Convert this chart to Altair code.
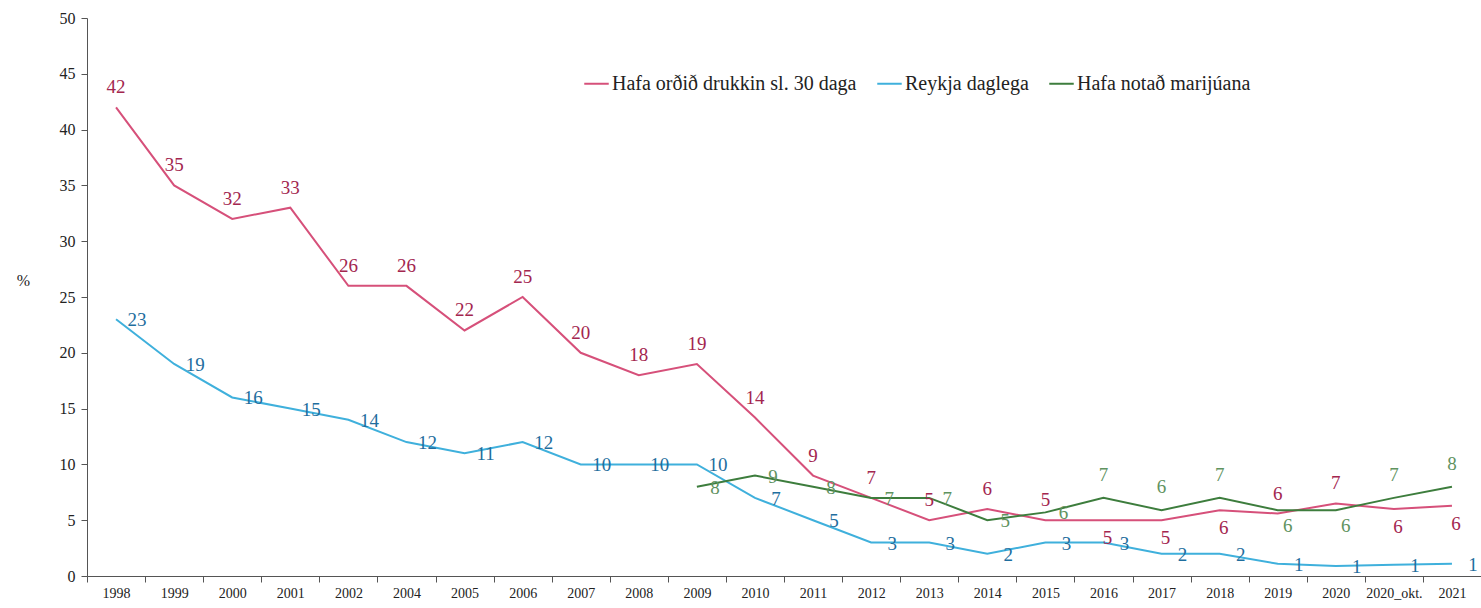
import altair as alt
import pandas as pd

years = ["1998", "1999", "2000", "2001", "2002", "2004", "2005", "2006", "2007", "2008",
         "2009", "2010", "2011", "2012", "2013", "2014", "2015", "2016", "2017", "2018",
         "2019", "2020", "2020_okt.", "2021"]

drunk = [42, 35, 32, 33, 26, 26, 22, 25, 20, 18, 19, 14.2, 9, 7, 5, 6, 5, 5, 5, 5.9,
         5.6, 6.5, 6, 6.3]
smoke = [23, 19, 16, 15, 14, 12, 11, 12, 10, 10, 10, 7, 5, 3, 3, 2, 3, 3, 2, 2,
         1.1, 0.9, 1, 1.1]
mj_years = years[10:]
mj = [8, 9, 8, 7, 7, 5, 5.7, 7, 5.9, 7, 5.9, 5.9, 7, 8]

series_names = ["Hafa orðið drukkin sl. 30 daga", "Reykja daglega", "Hafa notað marijúana"]
line_colors = ["#d6507a", "#3fb0dc", "#3d7d3d"]
label_colors = ["#a3264f", "#1f6e9e", "#5f935f"]

drunk_below = ["2016", "2017", "2018", "2020_okt.", "2021"]
mj_above = ["2016", "2017", "2018", "2020_okt.", "2021"]
mj_below = ["2019", "2020"]

rows = []
for y, v in zip(years, drunk):
    rows.append({"year": y, "value": v, "series": series_names[0]})
for y, v in zip(years, smoke):
    rows.append({"year": y, "value": v, "series": series_names[1]})
for y, v in zip(mj_years, mj):
    rows.append({"year": y, "value": v, "series": series_names[2]})
df = pd.DataFrame(rows)

FONT = "Liberation Serif"

x_enc = alt.X("year:N", sort=years,
              scale=alt.Scale(type="band", paddingInner=0, paddingOuter=0),
              axis=alt.Axis(title=None, labelAngle=0, tickBand="extent",
                            labelFont=FONT, labelFontSize=14, labelColor="#222",
                            domainColor="#555", tickColor="#555", tickSize=6,
                            labelPadding=4))
y_enc = alt.Y("value:Q",
              scale=alt.Scale(domain=[0, 50], nice=False),
              axis=alt.Axis(title="%", titleAngle=0, titleX=-64, titleY=262,
                            titleAlign="center", titleBaseline="middle",
                            titleFont=FONT, titleFontSize=16, titleFontWeight="normal",
                            titleColor="#222",
                            values=list(range(0, 51, 5)), grid=False,
                            labelFont=FONT, labelFontSize=16, labelColor="#222",
                            domainColor="#555", tickColor="#555", tickSize=6,
                            labelPadding=6))

lines = alt.Chart(df).mark_line(strokeWidth=2).encode(
    x=x_enc, y=y_enc,
    color=alt.Color("series:N",
                    scale=alt.Scale(domain=series_names, range=line_colors),
                    legend=alt.Legend(title=None, orient="none", legendX=496, legendY=52,
                                      direction="horizontal", symbolType="stroke",
                                      symbolSize=600, symbolStrokeWidth=2,
                                      labelFont=FONT, labelFontSize=20, labelColor="#222",
                                      columnPadding=16, labelOffset=2, labelLimit=400)),
    detail="series:N",
)


def labels(data, color, dx, dy):
    return alt.Chart(data).mark_text(font=FONT, fontSize=19, color=color,
                                     dx=dx, dy=dy, align="center", baseline="middle").encode(
        x=alt.X("year:N", sort=years), y="value:Q",
        text=alt.Text("value:Q", format=".0f"))


d_df = df[df.series == series_names[0]]
s_df = df[df.series == series_names[1]]
m_df = df[df.series == series_names[2]]

layers = [
    lines,
    labels(d_df[~d_df.year.isin(drunk_below)], label_colors[0], 0, -20),
    labels(d_df[d_df.year.isin(drunk_below)], label_colors[0], 4, 18),
    labels(s_df, label_colors[1], 21, 1),
    labels(m_df[~m_df.year.isin(mj_above + mj_below)], label_colors[2], 18, 1),
    labels(m_df[m_df.year.isin(mj_above)], label_colors[2], 0, -23),
    labels(m_df[m_df.year.isin(mj_below)], label_colors[2], 10, 16),
]

chart = alt.layer(*layers).properties(
    width=1394, height=558,
    padding={"left": 87, "top": 18, "right": 0, "bottom": 32},
    autosize=alt.AutoSizeParams(type="none"),
    background="white",
).configure_view(stroke=None)

chart.save("out.html", embed_options={"renderer": "svg", "actions": False})
